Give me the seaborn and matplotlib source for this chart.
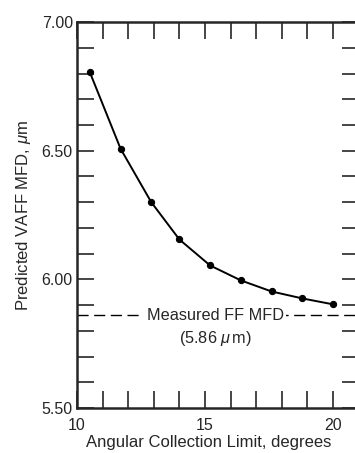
"""VAFF MFD predicho frente al limite angular de coleccion."""

import matplotlib
matplotlib.use("Agg")
import matplotlib.pyplot as plt
import pandas as pd
import seaborn as sns
from matplotlib.ticker import MultipleLocator

angulo = [10.5, 11.7, 12.9, 14.0, 15.2, 16.4, 17.6, 18.8, 20.0]
mfd_pred = [6.805, 6.508, 6.30, 6.155, 6.054, 5.996, 5.953, 5.926, 5.903]
mfd_medido = 5.86
xticks = [10, 15, 20]
yticks = [5.50, 6.00, 6.50, 7.00]

df = pd.DataFrame({"angulo": angulo, "mfd": mfd_pred})

sns.set_style("ticks")
plt.rcParams["font.family"] = ["Liberation Sans", "DejaVu Sans"]
plt.rcParams["mathtext.fontset"] = "custom"
plt.rcParams["mathtext.it"] = "Liberation Sans:italic"

fig = plt.figure(figsize=(3.55, 4.53), dpi=100)
ax = fig.add_axes([0.217, 0.0993, 0.793, 0.852])

sns.lineplot(data=df, x="angulo", y="mfd", ax=ax, color="black", lw=1.4,
             marker="o", markersize=4.5, markeredgecolor="black")

ax.axhline(mfd_medido, color="black", lw=1.0, ls=(0, (8, 4)), zorder=1)
ax.text(15.4, mfd_medido, "Measured FF MFD", ha="center", va="center",
        fontsize=11.7, bbox=dict(facecolor="white", edgecolor="none", pad=2),
        zorder=2)
ax.text(15.4, 5.77, "(5.86 $\\mu\\,$m)", ha="center", va="center", fontsize=11.7)

ax.set_xlim(10, 21)
ax.set_ylim(5.5, 7.0)
ax.set_xticks(xticks)
ax.set_xticklabels([str(t) for t in xticks])
ax.set_yticks(yticks)
ax.set_yticklabels([f"{t:.2f}" for t in yticks])
ax.xaxis.set_minor_locator(MultipleLocator(1))
ax.yaxis.set_minor_locator(MultipleLocator(0.1))
ax.tick_params(which="both", direction="in", top=True, right=True,
               length=12, width=1.2, labelsize=11.5, pad=3)
ax.tick_params(axis="x", pad=7)
for s in ax.spines.values():
    s.set_linewidth(1.8)

ax.set_xlabel("Angular Collection Limit, degrees", fontsize=12)
ax.xaxis.set_label_coords(0.467, -0.07)
ax.set_ylabel("Predicted VAFF MFD, $\\mu$m", fontsize=12, labelpad=6)

fig.savefig("out.png", dpi=100)
